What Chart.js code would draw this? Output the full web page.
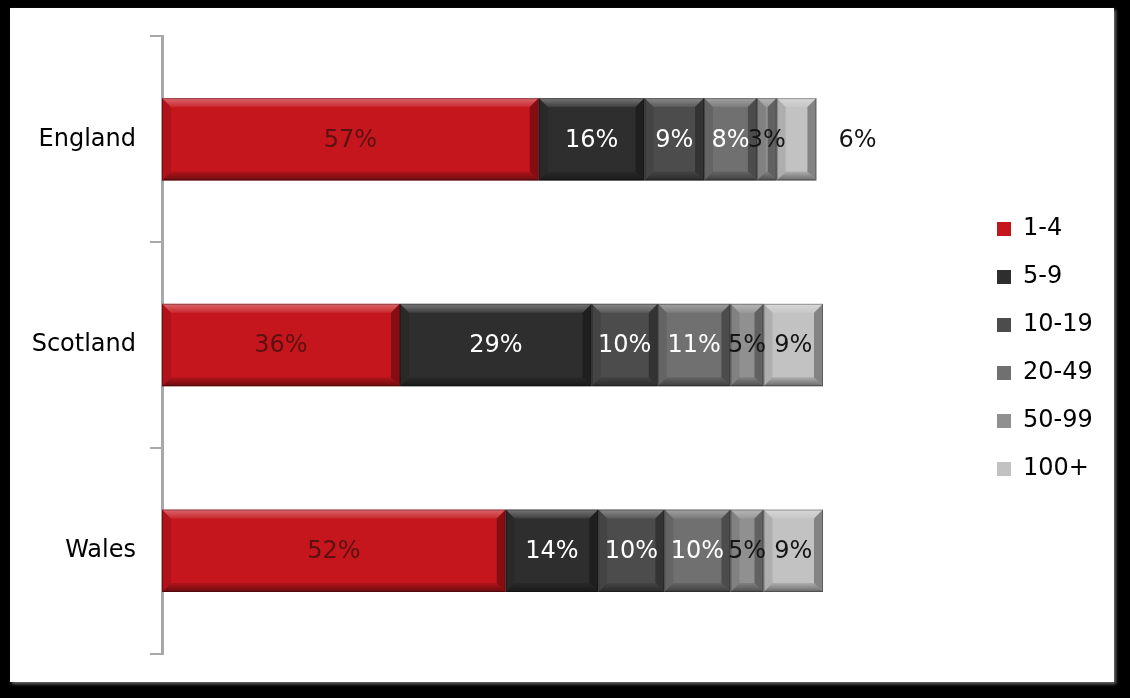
<!DOCTYPE html>
<html>
<head>
<meta charset="utf-8">
<title>Business size bands by nation</title>
<script src="https://cdn.jsdelivr.net/npm/chart.js@4/dist/chart.umd.min.js"></script>
<style>
  html, body { margin: 0; padding: 0; background: #000; }
  body { width: 1130px; height: 698px; position: relative; overflow: hidden; }
  #frame { position: absolute; left: 10px; top: 8px; width: 1104px; height: 674px; background: #fff;
           box-shadow: 2px 2px 3px rgba(120,120,120,0.9); }
  canvas { display: block; }
</style>
</head>
<body>
<div id="frame"><canvas id="chart" width="1104" height="674"></canvas></div>
<script>
// Nations shown on the vertical axis
const nations = ['England', 'Scotland', 'Wales'];

// Employment size bands (legend order)
const bands = ['1-4', '5-9', '10-19', '20-49', '50-99', '100+'];

// Share of businesses in each band, per nation (%)
const band1to4    = [57, 36, 52];
const band5to9    = [16, 29, 14];
const band10to19  = [9, 10, 10];
const band20to49  = [8, 11, 10];
const band50to99  = [3, 5, 5];
const band100plus = [6, 9, 9];

const bandValues = [band1to4, band5to9, band10to19, band20to49, band50to99, band100plus];

// Fill colours and in-bar label colours for each band
const fills = ['#c5161d', '#2e2e2e', '#4c4c4c', '#707070', '#909090', '#c2c2c2'];
const labelColours = ['#5c1111', '#ffffff', '#ffffff', '#ffffff', '#151515', '#151515'];

const FONT = '"DejaVu Sans", Verdana, sans-serif';

// Bevelled edges on every bar segment, drawn from the bar elements' own geometry
const bevelPlugin = {
  id: 'bevel',
  afterDatasetsDraw(chart) {
    const ctx = chart.ctx;
    chart.data.datasets.forEach((ds, i) => {
      const meta = chart.getDatasetMeta(i);
      meta.data.forEach(bar => {
        const { x, y, base, height } = bar.getProps(['x', 'y', 'base', 'height'], true);
        const l = Math.min(x, base), r = Math.max(x, base);
        const t = y - height / 2, b = y + height / 2;
        const w = r - l;
        const e = Math.min(9, w / 2.2);
        ctx.save();
        // top face highlight
        let g = ctx.createLinearGradient(0, t, 0, t + e);
        g.addColorStop(0, 'rgba(255,255,255,0.35)');
        g.addColorStop(1, 'rgba(255,255,255,0.08)');
        ctx.fillStyle = g;
        ctx.beginPath();
        ctx.moveTo(l, t); ctx.lineTo(r, t); ctx.lineTo(r - e, t + e); ctx.lineTo(l + e, t + e); ctx.closePath();
        ctx.fill();
        // bottom face shadow
        g = ctx.createLinearGradient(0, b - e, 0, b);
        g.addColorStop(0, 'rgba(0,0,0,0.1)');
        g.addColorStop(1, 'rgba(0,0,0,0.45)');
        ctx.fillStyle = g;
        ctx.beginPath();
        ctx.moveTo(l, b); ctx.lineTo(r, b); ctx.lineTo(r - e, b - e); ctx.lineTo(l + e, b - e); ctx.closePath();
        ctx.fill();
        // left face
        ctx.fillStyle = 'rgba(0,0,0,0.1)';
        ctx.beginPath();
        ctx.moveTo(l, t); ctx.lineTo(l + e, t + e); ctx.lineTo(l + e, b - e); ctx.lineTo(l, b); ctx.closePath();
        ctx.fill();
        // right face
        ctx.fillStyle = 'rgba(0,0,0,0.32)';
        ctx.beginPath();
        ctx.moveTo(r, t); ctx.lineTo(r - e, t + e); ctx.lineTo(r - e, b - e); ctx.lineTo(r, b); ctx.closePath();
        ctx.fill();
        // thin dark outline
        ctx.strokeStyle = 'rgba(0,0,0,0.3)';
        ctx.lineWidth = 1;
        ctx.strokeRect(l + 0.5, t + 0.5, w - 1, height - 1);
        ctx.restore();
      });
    });
  }
};

// Percentage labels centred in each segment; a last segment without comfortable
// room for its label gets the label just past the end of the bar
const valueLabelPlugin = {
  id: 'valueLabels',
  afterDraw(chart) {
    const ctx = chart.ctx;
    const last = chart.data.datasets.length - 1;
    ctx.save();
    ctx.font = '24px ' + FONT;
    ctx.textBaseline = 'middle';
    chart.data.datasets.forEach((ds, i) => {
      const meta = chart.getDatasetMeta(i);
      meta.data.forEach((bar, j) => {
        const { x, y, base } = bar.getProps(['x', 'y', 'base'], true);
        const text = ds.data[j] + '%';
        const tw = ctx.measureText(text).width;
        ctx.fillStyle = labelColours[i];
        if (i === last && tw + 12 > Math.abs(x - base)) {
          ctx.textAlign = 'left';
          ctx.fillText(text, Math.max(x, base) + 22, y + 1);
        } else {
          ctx.textAlign = 'center';
          ctx.fillText(text, (x + base) / 2, y + 1);
        }
      });
    });
    ctx.restore();
  }
};

// Legend sits in a fixed-width column on the right with its items set in from the plot
const legendColumnPlugin = {
  id: 'legendColumn',
  afterInit(chart) {
    const legend = chart.legend;
    const fit = legend.fit.bind(legend);
    legend.fit = function () {
      fit();
      this.width = 291;
    };
  },
  afterLayout(chart) {
    const legend = chart.legend;
    legend.left += 150;
    legend.top += 4;
    legend.bottom += 4;
  }
};

const datasets = bands.map((name, i) => ({
  label: name,
  data: bandValues[i],
  backgroundColor: fills[i],
  borderWidth: 0,
  barPercentage: 0.4,
  categoryPercentage: 1.0
}));

new Chart(document.getElementById('chart'), {
  type: 'bar',
  data: { labels: nations, datasets },
  plugins: [bevelPlugin, valueLabelPlugin, legendColumnPlugin],
  options: {
    indexAxis: 'y',
    responsive: false,
    animation: false,
    layout: { padding: { top: 27, bottom: 27, left: 0, right: 0 } },
    scales: {
      x: { stacked: true, min: 0, max: 100, display: false },
      y: {
        stacked: true,
        afterFit(scale) { scale.width = 152; },
        border: { display: true, color: '#a8a8a8', width: 3 },
        grid: { display: true, drawOnChartArea: false, drawTicks: true, tickLength: 12, color: '#a8a8a8', lineWidth: 2, offset: true },
        ticks: { color: '#000', padding: 14, font: { family: FONT, size: 24 } }
      }
    },
    plugins: {
      tooltip: { enabled: false },
      legend: {
        position: 'right',
        align: 'center',
        labels: {
          color: '#000',
          boxWidth: 14,
          boxHeight: 14,
          padding: 24,
          font: { family: FONT, size: 24 }
        }
      }
    }
  }
});
</script>
</body>
</html>
